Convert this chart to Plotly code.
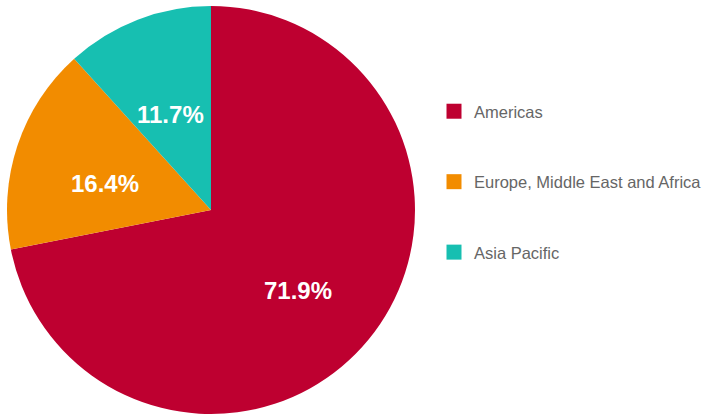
import math
import plotly.graph_objects as go

regions = ["Americas", "Europe, Middle East and Africa", "Asia Pacific"]
shares = [71.9, 16.4, 11.7]
colors = ["#BE0030", "#F28C00", "#17BFB1"]

W, H = 707, 417
# pie box in page pixels (left, right, top, bottom)
PX0, PX1, PY0, PY1 = 7, 415, 6, 414

fig = go.Figure()
fig.add_trace(go.Pie(
    labels=regions,
    values=shares,
    sort=False,
    direction="clockwise",
    rotation=0,
    marker=dict(colors=colors, line=dict(width=0)),
    textinfo="none",
    showlegend=False,
    domain=dict(x=[PX0 / W, PX1 / W], y=[1 - PY1 / H, 1 - PY0 / H]),
    hoverinfo="label+percent",
))

# percentage labels placed along each slice's bisector
cx, cy = (PX0 + PX1) / 2, (PY0 + PY1) / 2
r = (PX1 - PX0) / 2
total = sum(shares)
cum = 0.0
for v in shares:
    mid = (cum + v / 2) / total * 2 * math.pi
    cum += v
    px = cx + 0.55 * r * math.sin(mid)
    py = cy - 0.55 * r * math.cos(mid) + 9
    fig.add_annotation(
        x=px / W, y=1 - py / H, xref="paper", yref="paper",
        text=f"{v / total * 100:.1f}%", showarrow=False,
        xanchor="center", yanchor="middle",
        font=dict(family="Liberation Sans, Arial", size=24, color="white", weight="bold"),
    )

# legend entries as square markers
for name, c in zip(regions, colors):
    fig.add_trace(go.Scatter(
        x=[None], y=[None], mode="markers", name=name,
        marker=dict(symbol="square", size=15, color=c),
        legendgroup=name, showlegend=True,
    ))

fig.update_layout(
    width=W, height=H,
    margin=dict(l=0, r=0, t=0, b=0),
    paper_bgcolor="white",
    plot_bgcolor="white",
    xaxis=dict(visible=False),
    yaxis=dict(visible=False),
    legend=dict(
        x=434 / W, y=1 - 94 / H, xanchor="left", yanchor="top",
        font=dict(family="Liberation Sans, Arial", size=16.5, color="#666666"),
        traceorder="grouped",
        tracegroupgap=46,
        borderwidth=0,
        bgcolor="rgba(0,0,0,0)",
    ),
)

fig.write_html(
    "out.html",
    config={"displayModeBar": False},
    post_script=(
        "document.body.style.margin='0';"
        "document.body.style.overflow='hidden';"
        "document.documentElement.style.overflow='hidden';"
    ),
)
